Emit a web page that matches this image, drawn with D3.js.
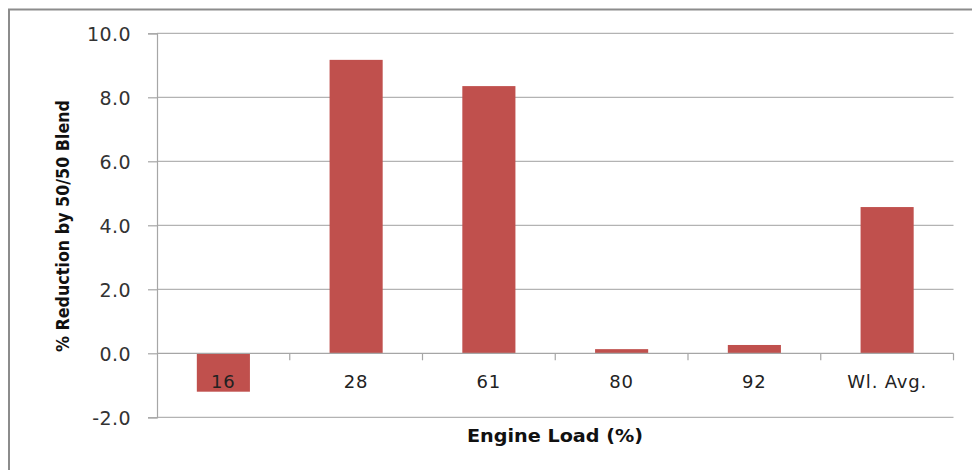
<!DOCTYPE html>
<html><head><meta charset="utf-8">
<script src="https://cdn.jsdelivr.net/npm/d3@7"></script>
<style>html,body{margin:0;padding:0;background:#fff;}</style>
</head><body>
<script>
const categories = ["16", "28", "61", "80", "92", "Wl. Avg."];
const values = [-1.2, 9.17, 8.35, 0.13, 0.26, 4.57];
const yTicks = [-2, 0, 2, 4, 6, 8, 10];
const yTitle = "% Reduction by 50/50 Blend";
const xTitle = "Engine Load (%)";

const W = 972, H = 470;
const pL = 157, pR = 953.5, pT = 33.3, pB = 417.3;
const svg = d3.select("body").append("svg").attr("width", W).attr("height", H);

// outer frame
svg.append("path").attr("d", `M9,${H} L9,9.5 L${W},9.5`)
  .attr("fill", "none").attr("stroke", "#8c8c8c").attr("stroke-width", 2);

const x = d3.scaleBand().domain(categories).range([pL, pR]).paddingInner(0.6).paddingOuter(0.3);
const xb = d3.scaleBand().domain(categories).range([pL, pR]);
const y = d3.scaleLinear().domain([-2, 10]).range([pB, pT]);

// gridlines
svg.append("g").selectAll("line").data(yTicks.filter(d => d !== 0)).join("line")
  .attr("x1", pL).attr("x2", pR)
  .attr("y1", d => y(d)).attr("y2", d => y(d))
  .attr("stroke", "#b3b3b3").attr("stroke-width", 1.2);

// bars
svg.append("g").selectAll("rect").data(values).join("rect")
  .attr("x", (d, i) => x(categories[i]))
  .attr("width", x.bandwidth())
  .attr("y", d => y(Math.max(0, d)))
  .attr("height", d => Math.abs(y(d) - y(0)))
  .attr("fill", "#c0504d");

// y axis
const fmt = d3.format(".1f");
const yAxis = d3.axisLeft(y).tickValues(yTicks).tickFormat(d => fmt(d).replace("\u2212", "-")).tickSize(9).tickPadding(17);
const gy = svg.append("g").attr("transform", `translate(${pL},0)`).call(yAxis);
gy.select(".domain").attr("stroke", "#a6a6a6").attr("stroke-width", 1.2);
gy.selectAll(".tick line").attr("stroke", "#a6a6a6").attr("stroke-width", 1.2);
gy.selectAll(".tick text").attr("font-family", "DejaVu Sans").attr("font-size", 19)
  .attr("letter-spacing", 0.4).attr("fill", "#333").attr("dy", "0.36em");

// x axis at zero
const boundaries = categories.map(c => xb(c) + xb.bandwidth());
const gx = svg.append("g");
gx.append("line").attr("x1", pL).attr("x2", pR).attr("y1", y(0)).attr("y2", y(0))
  .attr("stroke", "#a6a6a6").attr("stroke-width", 1.2);
gx.selectAll("line.tk").data(boundaries).join("line").attr("class", "tk")
  .attr("x1", d => d).attr("x2", d => d).attr("y1", y(0)).attr("y2", y(0) + 7)
  .attr("stroke", "#a6a6a6").attr("stroke-width", 1.2);
gx.selectAll("text").data(categories).join("text")
  .attr("x", d => xb(d) + xb.bandwidth() / 2)
  .attr("y", y(0) + 35)
  .attr("text-anchor", "middle")
  .attr("font-family", "DejaVu Sans").attr("font-size", 18)
  .attr("letter-spacing", 0.8).attr("fill", "#222")
  .text(d => d);

// axis titles
svg.append("text").attr("x", 555).attr("y", 442).attr("text-anchor", "middle")
  .attr("font-family", "DejaVu Sans").attr("font-weight", "bold").attr("font-size", 18)
  .attr("textLength", 176).attr("lengthAdjust", "spacingAndGlyphs").attr("fill", "#111")
  .text(xTitle);
svg.append("text").attr("transform", "translate(69,226) rotate(-90)").attr("text-anchor", "middle")
  .attr("font-family", "DejaVu Sans Condensed, DejaVu Sans").attr("font-weight", "bold").attr("font-size", 18)
  .attr("textLength", 252).attr("lengthAdjust", "spacingAndGlyphs").attr("fill", "#111")
  .text(yTitle);
</script>
</body></html>
